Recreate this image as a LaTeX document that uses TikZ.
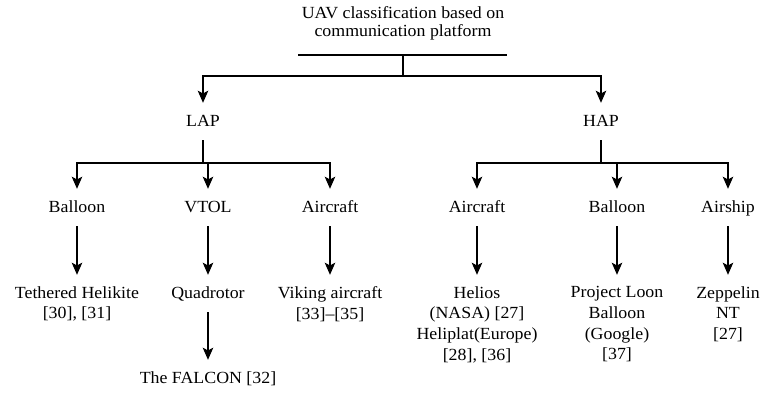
\documentclass[tikz,border=0pt]{standalone}
\usepackage{fontspec}
\setmainfont{Liberation Serif}[FakeStretch=1.05]
\usetikzlibrary{arrows.meta}
\begin{document}
\begin{tikzpicture}[x=0.5pt,y=-0.5pt,
  every node/.style={font=\fontsize{8.5}{10.35}\selectfont, inner sep=0pt, outer sep=0pt},
  lbl/.style={anchor=base, text height=5.8pt, text depth=0pt},
  leaf/.style={anchor=north, align=center},
  conn/.style={line width=0.8pt},
  arr/.style={conn, -{Stealth[length=6pt,width=5.2pt,inset=1.3pt]}, shorten >=5.8pt},
  fromnode/.style={shorten <=7pt}]
\useasboundingbox (0,0) rectangle (762,393);

% root
\node[leaf, font=\fontsize{8.5}{9}\selectfont] (root) at (403,6.4)
  {UAV classification based on\\communication platform};

% second level
\node[lbl] (lap) at (203,126) {LAP};
\node[lbl] (hap) at (601,126) {HAP};

% third level
\node[lbl] (lballoon)  at (77,212)  {Balloon};
\node[lbl] (vtol)      at (208,212) {VTOL};
\node[lbl] (laircraft) at (330,212) {Aircraft};
\node[lbl] (haircraft) at (477,212) {Aircraft};
\node[lbl] (hballoon)  at (617,212) {Balloon};
\node[lbl] (airship)   at (728,212) {Airship};

% examples
\node[leaf] (helikite) at (77,286.4)  {Tethered Helikite\\{[30], [31]}};
\node[lbl]  (quad)     at (208,298)   {Quadrotor};
\node[leaf] (viking)   at (330,286.4) {Viking aircraft\\{[33]--[35]}};
\node[leaf] (helios)   at (477,286.4) {Helios\\(NASA) [27]\\Heliplat(Europe)\\{[28], [36]}};
\node[leaf] (loon)     at (617,286.4) {Project Loon\\Balloon\\(Google)\\{[37]}};
\node[leaf] (zeppelin) at (728,286.4) {Zeppelin\\NT\\{[27]}};
\node[lbl]  (falcon)   at (208,383)   {The FALCON [32]};

% junction points
\coordinate (barL) at (298,55);
\coordinate (barR) at (507,55);
\coordinate (barM) at (403,55);
\coordinate (fork) at (403,76);
\coordinate (lapfork) at (203,163);
\coordinate (hapfork) at (601,163);

% root to LAP / HAP
\draw[conn] (barL) -- (barR);
\draw[conn] (barM) -- (fork);
\draw[arr] (fork) -| (lap.north);
\draw[arr] (fork) -| (hap.north);

% LAP branch
\draw[conn, fromnode] (lap.south) -- (lapfork);
\draw[arr] (lapfork) -| (lballoon.north);
\draw[arr] (lapfork) -| (vtol.north);
\draw[arr] (lapfork) -| (laircraft.north);

% HAP branch
\draw[conn, fromnode] (hap.south) -- (hapfork);
\draw[arr] (hapfork) -| (haircraft.north);
\draw[arr] (hapfork) -| (hballoon.north);
\draw[arr] (hapfork) -| (airship.north);

% examples
\draw[arr, fromnode] (lballoon.south) -- (helikite.north);
\draw[arr, fromnode] (vtol.south) -- (quad.north);
\draw[arr, fromnode] (laircraft.south) -- (viking.north);
\draw[arr, fromnode] (haircraft.south) -- (helios.north);
\draw[arr, fromnode] (hballoon.south) -- (loon.north);
\draw[arr, fromnode] (airship.south) -- (zeppelin.north);
\draw[arr, fromnode] (quad.south) -- (falcon.north);
\end{tikzpicture}
\end{document}
